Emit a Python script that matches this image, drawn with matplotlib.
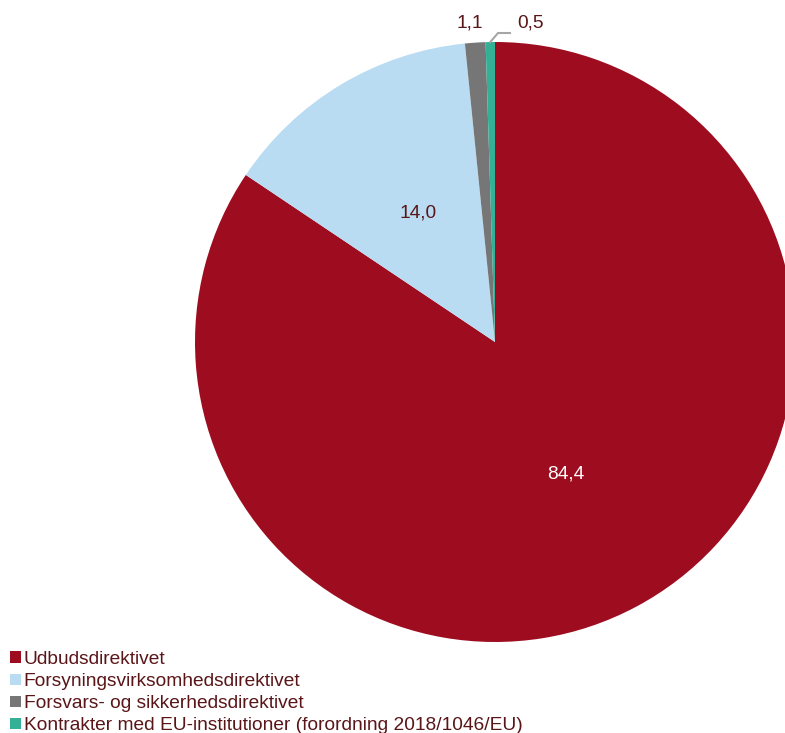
#Pie chart: distribution of contracts by directive (percent)

import numpy as np
import matplotlib
matplotlib.use('Agg')
import matplotlib.pyplot as plt

#Data
#---------------------------------
categories=['Udbudsdirektivet',
            'Forsyningsvirksomhedsdirektivet',
            'Forsvars- og sikkerhedsdirektivet',
            'Kontrakter med EU-institutioner (forordning 2018/1046/EU)']
shares=[84.4, 14.0, 1.1, 0.5]
colors=['#9e0c1f', '#b9dcf2', '#767676', '#34b096']
#---------------------------------

plt.rcParams['font.family']=['Liberation Sans', 'DejaVu Sans']
text_c='#5a1518'
size_txt=13.8

fig=plt.figure(figsize=(7.85,7.33), dpi=100)
#pie centred at (495,342) px with radius 300 px
W,H=785,733
cx,cy,r=495,342,300
ax=fig.add_axes([(cx-r)/W, (H-cy-r)/H, 2*r/W, 2*r/H])

wedges,_=ax.pie(shares, colors=colors, startangle=90, counterclock=False,
                radius=1, wedgeprops=dict(linewidth=0))
ax.set_xlim(-1,1); ax.set_ylim(-1,1)
ax.set_aspect('auto')
ax.axis('off')

def fmt(v):
    return ('%.1f' % v).replace('.', ',')

#Labels inside the big slices
for w,v in zip(wedges[:2], shares[:2]):
    ang=np.deg2rad((w.theta1+w.theta2)/2)
    col='white' if v>50 else text_c
    ax.text(0.5*np.cos(ang), 0.5*np.sin(ang), fmt(v), ha='center', va='center',
            color=col, fontsize=size_txt)

#Labels outside the small slices
ax.text(-0.083, 1.065, fmt(shares[2]), ha='center', va='center', color=text_c,
        fontsize=size_txt, clip_on=False)
ang=np.deg2rad((wedges[3].theta1+wedges[3].theta2)/2)
x0,y0=np.cos(ang),np.sin(ang)
ax.plot([x0, 0.01, 0.05], [y0, 1.03, 1.03], color='#a6a6a6', lw=1.5, clip_on=False)
ax.text(0.117, 1.065, fmt(shares[3]), ha='center', va='center', color=text_c,
        fontsize=size_txt, clip_on=False)

#Legend
leg=fig.legend(wedges, categories, loc='lower left', bbox_to_anchor=(0.013, -0.002),
               frameon=False, fontsize=size_txt, handlelength=0.55, handleheight=0.55,
               handletextpad=0.15, labelspacing=0.27, borderaxespad=0.0,
               borderpad=0.0, labelcolor=text_c)

fig.savefig('out.png', dpi=100)
